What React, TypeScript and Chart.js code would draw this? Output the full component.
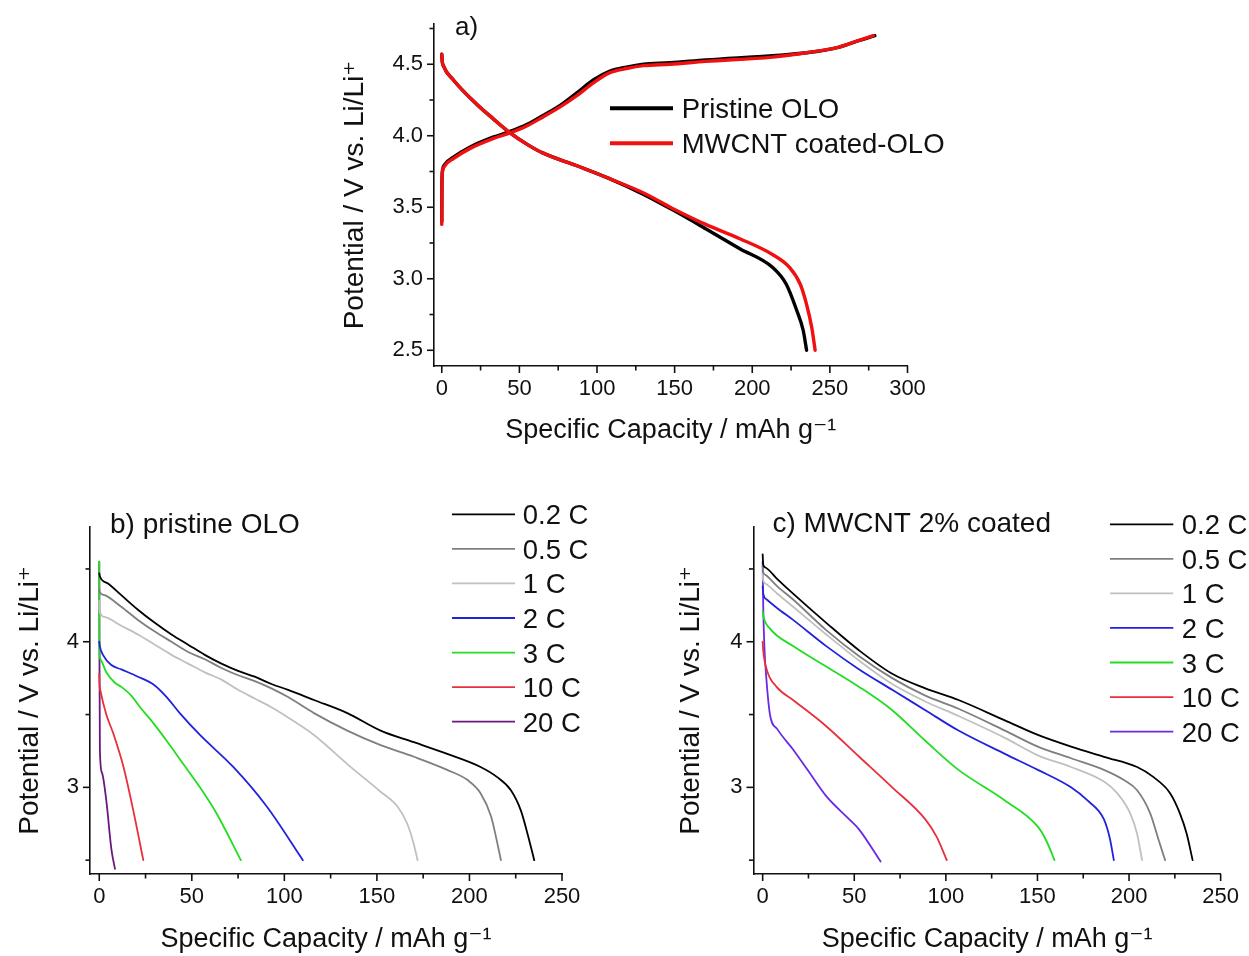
import React, { useEffect, useRef } from 'react';
import { Chart, registerables } from 'chart.js';

Chart.register(...registerables);

const FONT = '"Liberation Sans", Arial, "DejaVu Sans", sans-serif';
const INK = '#111111';

const X_TITLE = 'Specific Capacity / mAh g⁻¹';
const Y_TITLE = 'Potential / V vs. Li/Li⁺';

// ---------------- Panel a ----------------
const aLegendLabels = ['Pristine OLO', 'MWCNT coated-OLO'];
const aPanelLabel = 'a)';
const aXMajor = [0, 50, 100, 150, 200, 250, 300];
const aXMinor = [25, 75, 125, 175, 225, 275];
const aYMajor = [2.5, 3.0, 3.5, 4.0, 4.5];
const aYMinor = [2.75, 3.25, 3.75, 4.25, 4.75];

const aPrisChgCap = [0, 0.1, 0.5, 2, 7.5, 18, 33, 44, 55, 65, 76, 87, 97.6, 108, 119, 130, 147, 170, 213, 235, 256, 267, 279];
const aPrisChgV = [3.40, 3.66, 3.76, 3.80, 3.85, 3.92, 3.99, 4.03, 4.08, 4.14, 4.21, 4.30, 4.39, 4.45, 4.48, 4.50, 4.51, 4.53, 4.56, 4.58, 4.62, 4.66, 4.70];
const aCntChgCap = [0, 0.1, 0.5, 2, 7.5, 18, 33, 44, 55, 65, 76, 87, 97.6, 108, 119, 130, 147, 170, 213, 235, 256, 267, 278];
const aCntChgV = [3.38, 3.65, 3.75, 3.79, 3.84, 3.91, 3.98, 4.02, 4.07, 4.13, 4.20, 4.28, 4.37, 4.44, 4.47, 4.49, 4.50, 4.52, 4.55, 4.58, 4.62, 4.66, 4.70];
const aPrisDisCap = [0, 0.3, 1, 7.5, 22.5, 33, 44, 55, 65, 87, 108, 130, 149, 170, 192, 213, 222, 228.6, 232.8, 235];
const aPrisDisV = [4.57, 4.52, 4.49, 4.39, 4.22, 4.12, 4.02, 3.94, 3.88, 3.79, 3.70, 3.59, 3.48, 3.35, 3.21, 3.08, 2.96, 2.78, 2.64, 2.50];
const aCntDisCap = [0, 0.3, 1, 7.5, 22.5, 33, 44, 55, 65, 87, 108, 130, 149, 170, 192, 213, 224, 231, 235, 238.3, 240.5];
const aCntDisV = [4.57, 4.52, 4.49, 4.39, 4.22, 4.12, 4.02, 3.94, 3.88, 3.79, 3.70, 3.60, 3.49, 3.38, 3.28, 3.17, 3.08, 2.96, 2.82, 2.66, 2.50];

// ---------------- Panels b and c ----------------
const rateLabels = ['0.2 C', '0.5 C', '1 C', '2 C', '3 C', '10 C', '20 C'];
const bPanelLabel = 'b) pristine OLO';
const cPanelLabel = 'c) MWCNT 2% coated';
const bcXMajor = [0, 50, 100, 150, 200, 250];
const bcXMinor = [25, 75, 125, 175, 225];
const bcYMajor = [3, 4];
const bcYMinor = [2.5, 3.5, 4.5];

const b02Cap = [0, 0.3, 4.7, 11.9, 20.9, 30, 39, 48, 57, 66, 75, 84, 93, 102, 116, 134, 152, 170, 188, 206, 215, 222.4, 227.8, 231.4, 235];
const b02V = [4.47, 4.45, 4.40, 4.32, 4.22, 4.13, 4.05, 3.98, 3.91, 3.85, 3.80, 3.76, 3.71, 3.67, 3.60, 3.51, 3.39, 3.31, 3.23, 3.14, 3.07, 2.98, 2.84, 2.68, 2.50];
const b05Cap = [0, 0.3, 2.9, 11.9, 20.9, 30, 39, 48, 57, 66, 75, 84, 93, 102, 116, 134, 152, 170, 188, 199, 206, 211.7, 214.5, 217];
const b05V = [4.36, 4.34, 4.32, 4.24, 4.15, 4.07, 4.00, 3.93, 3.88, 3.82, 3.77, 3.73, 3.68, 3.62, 3.51, 3.39, 3.29, 3.21, 3.12, 3.05, 2.96, 2.80, 2.65, 2.50];
const b1Cap = [0, 0.2, 2.9, 11.9, 20.9, 30, 39, 48, 57, 66, 75, 84, 93, 102, 116, 134, 152, 161, 166.4, 169.5, 172];
const b1V = [4.28, 4.21, 4.17, 4.11, 4.05, 3.98, 3.91, 3.85, 3.79, 3.74, 3.67, 3.61, 3.55, 3.48, 3.36, 3.16, 2.97, 2.87, 2.75, 2.63, 2.50];
const b2Cap = [0, 0.3, 2, 6.5, 11.9, 20.9, 30, 36.4, 43.5, 54.4, 72.4, 90.4, 110];
const b2V = [4.00, 3.97, 3.91, 3.84, 3.81, 3.76, 3.70, 3.62, 3.51, 3.36, 3.14, 2.87, 2.50];
const b3Cap = [0, 0.1, 0.6, 3.8, 8.3, 11.9, 17.3, 22.7, 27.4, 36.4, 45.4, 54.4, 63.4, 76.5];
const b3V = [4.55, 3.95, 3.88, 3.79, 3.72, 3.69, 3.63, 3.54, 3.47, 3.32, 3.16, 3.00, 2.82, 2.50];
const b10Cap = [0, 0.1, 0.7, 3.8, 7.6, 13.1, 18.4, 23.8];
const b10V = [3.78, 3.72, 3.66, 3.50, 3.37, 3.14, 2.84, 2.50];
const b20Cap = [0, 0.15, 0.35, 1.5, 3.8, 6.6, 8.5];
const b20V = [4.55, 3.80, 3.25, 3.10, 2.91, 2.57, 2.44];

const c02Cap = [0, 0.3, 1.5, 8, 16.6, 34.7, 52.7, 70.7, 88.8, 106.9, 132.2, 150.2, 168.3, 186.3, 204.4, 213.4, 222.4, 227.8, 231.5, 234.7];
const c02V = [4.60, 4.53, 4.51, 4.43, 4.33, 4.13, 3.94, 3.78, 3.68, 3.60, 3.46, 3.36, 3.28, 3.21, 3.14, 3.07, 2.96, 2.82, 2.68, 2.50];
const c05Cap = [0, 0.3, 1.5, 8, 16.6, 34.7, 52.7, 70.7, 88.8, 106.9, 132.2, 150.2, 168.3, 186.3, 197.2, 204.4, 211.6, 216.1, 219.7];
const c05V = [4.52, 4.48, 4.46, 4.38, 4.29, 4.08, 3.90, 3.75, 3.63, 3.54, 3.39, 3.28, 3.20, 3.12, 3.05, 2.98, 2.82, 2.64, 2.50];
const c1Cap = [0, 0.3, 1.5, 8, 16.6, 34.7, 52.7, 70.7, 88.8, 106.9, 132.2, 150.2, 168.3, 186.3, 193.5, 200.7, 204.4, 207.1];
const c1V = [4.47, 4.42, 4.40, 4.33, 4.24, 4.05, 3.87, 3.71, 3.59, 3.49, 3.34, 3.22, 3.14, 3.04, 2.96, 2.82, 2.68, 2.50];
const c2Cap = [0, 0.3, 2.2, 8, 16.6, 34.7, 52.7, 70.7, 88.8, 106.9, 132.2, 150.2, 168.3, 177.3, 186.3, 189.5, 191.7];
const c2V = [4.38, 4.33, 4.29, 4.23, 4.15, 3.97, 3.81, 3.67, 3.53, 3.39, 3.23, 3.12, 3.00, 2.91, 2.78, 2.65, 2.50];
const c3Cap = [0, 0.5, 4, 16.6, 34.7, 52.7, 70.7, 88.8, 106.9, 132.2, 150.2, 155, 159.3];
const c3V = [4.21, 4.17, 4.09, 3.97, 3.83, 3.69, 3.53, 3.32, 3.12, 2.91, 2.73, 2.63, 2.50];
const c10Cap = [0, 0.3, 2.2, 7.6, 16.6, 34.7, 52.7, 70.7, 88.8, 95, 100.5];
const c10V = [4.00, 3.94, 3.81, 3.69, 3.60, 3.42, 3.21, 3.00, 2.78, 2.66, 2.50];
const c20Cap = [0, 0.3, 1, 2, 4, 8, 16.6, 25.6, 34.7, 47.3, 52.7, 64.4];
const c20V = [4.55, 4.25, 3.95, 3.75, 3.50, 3.40, 3.26, 3.10, 2.94, 2.78, 2.71, 2.49];

// ---------------- helpers ----------------
type Series = { label: string; color: string; cap: number[]; v: number[] };

const pts = (cap: number[], v: number[]) => cap.map((x, i) => ({ x, y: v[i] }));

type PanelSpec = {
  left: number; top: number; width: number; height: number;
  series: Series[];
  legendLabels: string[];
  lineWidth: number;
  xMin: number; xMax: number; yMin: number; yMax: number;
  xMajor: number[]; xMinor: number[]; yMajor: number[]; yMinor: number[];
  yFmt: (v: number) => string;
  padding: { left: number; top: number; right: number; bottom: number };
  yAxisWidth: number; xAxisHeight: number; yTitlePad: number; xTitlePad: number;
  legend: { x0: number; x1: number; y0: number; dy: number; textX: number; lineWidth: number; font: number };
  label: { text: string; x: number; y: number; font: number };
};

function decorPlugin(spec: PanelSpec) {
  return {
    id: 'decor',
    afterDraw(chart: any) {
      const ctx = chart.ctx as CanvasRenderingContext2D;
      const xs = chart.scales.x;
      const ys = chart.scales.y;
      const ca = chart.chartArea;
      ctx.save();
      ctx.strokeStyle = INK;
      ctx.lineWidth = 1.6;
      const seg = (x1: number, y1: number, x2: number, y2: number) => {
        ctx.beginPath();
        ctx.moveTo(x1, y1);
        ctx.lineTo(x2, y2);
        ctx.stroke();
      };
      spec.xMajor.forEach((v) => { const p = xs.getPixelForValue(v); seg(p, ca.bottom, p, ca.bottom + 7); });
      spec.xMinor.forEach((v) => { const p = xs.getPixelForValue(v); seg(p, ca.bottom, p, ca.bottom + 4.5); });
      spec.yMajor.forEach((v) => { const p = ys.getPixelForValue(v); seg(ca.left - 7, p, ca.left, p); });
      spec.yMinor.forEach((v) => { const p = ys.getPixelForValue(v); seg(ca.left - 4.5, p, ca.left, p); });

      // legend
      const L = spec.legend;
      ctx.font = `${L.font}px ${FONT}`;
      ctx.textAlign = 'left';
      ctx.textBaseline = 'alphabetic';
      spec.legendLabels.forEach((lab, i) => {
        const s = spec.series.find((d) => d.label === lab);
        const y = L.y0 + i * L.dy;
        ctx.strokeStyle = s ? s.color : INK;
        ctx.lineWidth = L.lineWidth;
        seg(L.x0, y, L.x1, y);
        ctx.fillStyle = INK;
        ctx.fillText(lab, L.textX, y + 10);
      });

      // panel label
      ctx.font = `${spec.label.font}px ${FONT}`;
      ctx.fillStyle = INK;
      ctx.fillText(spec.label.text, spec.label.x, spec.label.y);
      ctx.restore();
    },
  };
}

function buildConfig(spec: PanelSpec): any {
  return {
    type: 'line',
    data: {
      datasets: spec.series.map((s) => ({
        label: s.label,
        data: pts(s.cap, s.v),
        borderColor: s.color,
        backgroundColor: s.color,
        borderWidth: spec.lineWidth,
        pointRadius: 0,
        fill: false,
        cubicInterpolationMode: 'monotone',
        borderJoinStyle: 'round',
        borderCapStyle: 'round',
      })),
    },
    options: {
      responsive: false,
      animation: false,
      events: [],
      layout: { padding: spec.padding },
      plugins: { legend: { display: false }, tooltip: { enabled: false }, title: { display: false } },
      scales: {
        x: {
          type: 'linear',
          min: spec.xMin,
          max: spec.xMax,
          afterBuildTicks: (s: any) => { s.ticks = spec.xMajor.map((v) => ({ value: v })); },
          afterFit: (s: any) => { s.height = spec.xAxisHeight; },
          grid: { display: false, drawTicks: false },
          border: { display: true, color: INK, width: 1.6 },
          ticks: {
            font: { family: FONT, size: 22 },
            color: INK,
            padding: 10,
            maxRotation: 0,
            autoSkip: false,
            callback: (v: any) => String(v),
          },
          title: {
            display: true,
            text: X_TITLE,
            color: INK,
            font: { family: FONT, size: 27, lineHeight: 1 },
            padding: { top: 0, bottom: spec.xTitlePad },
          },
        },
        y: {
          type: 'linear',
          min: spec.yMin,
          max: spec.yMax,
          afterBuildTicks: (s: any) => { s.ticks = spec.yMajor.map((v) => ({ value: v })); },
          afterFit: (s: any) => { s.width = spec.yAxisWidth; },
          grid: { display: false, drawTicks: false },
          border: { display: true, color: INK, width: 1.6 },
          ticks: {
            font: { family: FONT, size: 22 },
            color: INK,
            padding: 11,
            autoSkip: false,
            callback: (v: any) => spec.yFmt(Number(v)),
          },
          title: {
            display: true,
            text: Y_TITLE,
            color: INK,
            font: { family: FONT, size: 28, lineHeight: 1 },
            padding: { top: spec.yTitlePad, bottom: 0 },
          },
        },
      },
    },
    plugins: [decorPlugin(spec)],
  };
}

const RATE_COLORS_B = ['#000000', '#7f7f7f', '#c0c0c0', '#2222dd', '#22dd22', '#e8303c', '#6b1a7b'];
const RATE_COLORS_C = ['#000000', '#7f7f7f', '#c0c0c0', '#2222dd', '#22dd22', '#e8303c', '#6b2ae0'];

const bCaps = [b02Cap, b05Cap, b1Cap, b2Cap, b3Cap, b10Cap, b20Cap];
const bVs = [b02V, b05V, b1V, b2V, b3V, b10V, b20V];
const cCaps = [c02Cap, c05Cap, c1Cap, c2Cap, c3Cap, c10Cap, c20Cap];
const cVs = [c02V, c05V, c1V, c2V, c3V, c10V, c20V];

const specA: PanelSpec = {
  left: 330, top: 0, width: 640, height: 460,
  series: [
    { label: aLegendLabels[1], color: '#f01010', cap: aCntChgCap, v: aCntChgV },
    { label: aLegendLabels[1], color: '#f01010', cap: aCntDisCap, v: aCntDisV },
    { label: aLegendLabels[0], color: '#000000', cap: aPrisChgCap, v: aPrisChgV },
    { label: aLegendLabels[0], color: '#000000', cap: aPrisDisCap, v: aPrisDisV },
  ],
  legendLabels: aLegendLabels,
  lineWidth: 3.4,
  xMin: -5, xMax: 300, yMin: 2.39, yMax: 4.78,
  xMajor: aXMajor, xMinor: aXMinor, yMajor: aYMajor, yMinor: aYMinor,
  yFmt: (v) => v.toFixed(1),
  padding: { left: 0, top: 21, right: 62.5, bottom: 0 },
  yAxisWidth: 104, xAxisHeight: 94, yTitlePad: 11, xTitlePad: 16,
  legend: { x0: 280, x1: 343, y0: 108.3, dy: 35, textX: 351.7, lineWidth: 4, font: 27.5 },
  label: { text: aPanelLabel, x: 125, y: 35, font: 26 },
};

const specB: PanelSpec = {
  left: 0, top: 480, width: 640, height: 476,
  series: rateLabels.map((l, i) => ({ label: l, color: RATE_COLORS_B[i], cap: bCaps[i], v: bVs[i] })),
  legendLabels: rateLabels,
  lineWidth: 1.8,
  xMin: -5, xMax: 250, yMin: 2.405, yMax: 4.788,
  xMajor: bcXMajor, xMinor: bcXMinor, yMajor: bcYMajor, yMinor: bcYMinor,
  yFmt: (v) => String(v),
  padding: { left: 0, top: 47, right: 78, bottom: 0 },
  yAxisWidth: 90, xAxisHeight: 82, yTitlePad: 16, xTitlePad: 2.5,
  legend: { x0: 452, x1: 515, y0: 34.3, dy: 34.57, textX: 522.7, lineWidth: 1.8, font: 27.5 },
  label: { text: bPanelLabel, x: 110, y: 53.3, font: 28 },
};

const specC: PanelSpec = {
  left: 660, top: 480, width: 589, height: 476,
  series: rateLabels.map((l, i) => ({ label: l, color: RATE_COLORS_C[i], cap: cCaps[i], v: cVs[i] })),
  legendLabels: rateLabels,
  lineWidth: 1.8,
  xMin: -5, xMax: 250, yMin: 2.405, yMax: 4.788,
  xMajor: bcXMajor, xMinor: bcXMinor, yMajor: bcYMajor, yMinor: bcYMinor,
  yFmt: (v) => String(v),
  padding: { left: 0, top: 47, right: 24.5, bottom: 0 },
  yAxisWidth: 93.5, xAxisHeight: 82, yTitlePad: 17, xTitlePad: 2.5,
  legend: { x0: 450, x1: 513.3, y0: 44.3, dy: 34.55, textX: 521.7, lineWidth: 1.8, font: 27.5 },
  label: { text: cPanelLabel, x: 112.5, y: 51.7, font: 28 },
};

function Panel({ spec }: { spec: PanelSpec }) {
  const ref = useRef<HTMLCanvasElement>(null);
  useEffect(() => {
    if (!ref.current) return;
    const chart = new Chart(ref.current, buildConfig(spec));
    return () => chart.destroy();
  }, [spec]);
  return (
    <canvas
      ref={ref}
      width={spec.width}
      height={spec.height}
      style={{ position: 'absolute', left: spec.left, top: spec.top, width: spec.width, height: spec.height }}
    />
  );
}

export default function App() {
  return (
    <div style={{ position: 'absolute', left: 0, top: 0, width: 1249, height: 956, background: '#ffffff', overflow: 'hidden' }}>
      <Panel spec={specA} />
      <Panel spec={specB} />
      <Panel spec={specC} />
    </div>
  );
}
